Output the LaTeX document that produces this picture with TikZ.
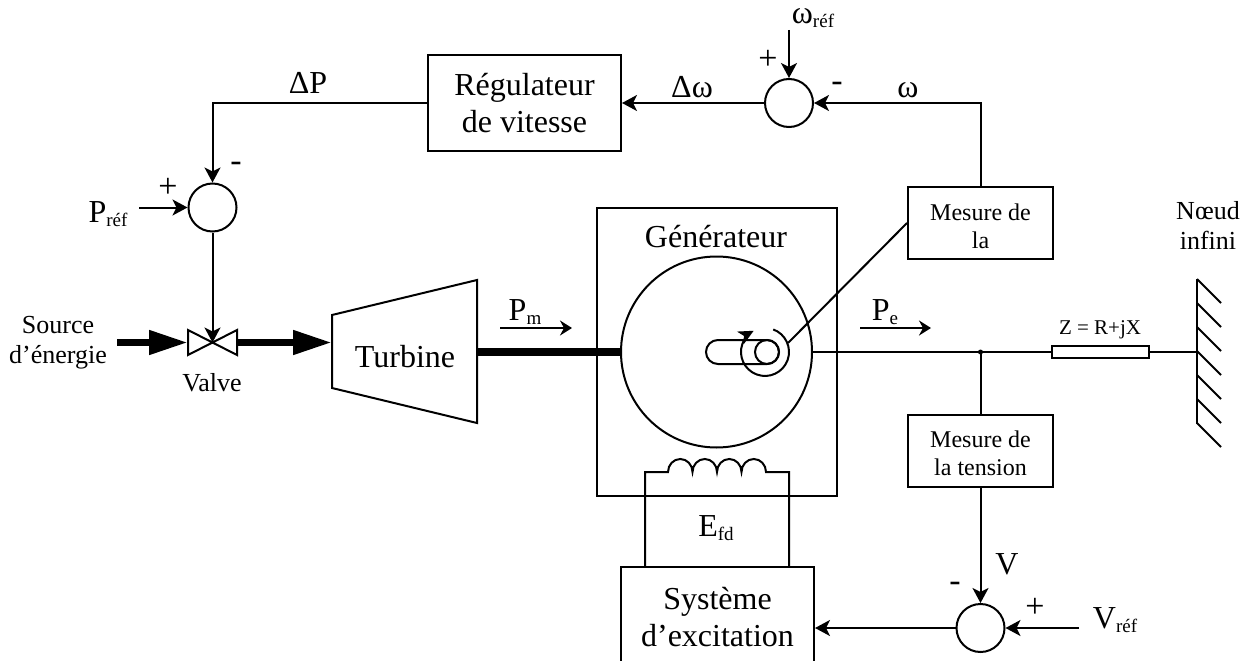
\documentclass[tikz,border=0pt]{standalone}
\usepackage{fontspec}
\setmainfont{Liberation Serif}
\usetikzlibrary{arrows.meta}

\newcommand{\indice}[1]{\raisebox{-4pt}{\fontsize{19}{19}\selectfont #1}}
\tikzset{
  trait/.style={line width=2pt},
  fleche/.style={trait, -{Stealth[length=15pt,width=16pt,inset=4pt]}},
  flechefine/.style={trait, -{Stealth[length=12pt,width=15pt,inset=4pt]}},
  grosse/.style={line width=7.5pt, -{Triangle[length=39pt,width=23pt]}},
  bloc/.style={draw, trait, align=center, inner sep=0pt},
  sommateur/.style={draw, trait, circle, minimum size=48pt, inner sep=0pt},
  grand/.style={font=\fontsize{32}{37}\selectfont, inner sep=0pt, anchor=base},
  moyen/.style={font=\fontsize{26}{30}\selectfont, inner sep=0pt, anchor=base},
  petit/.style={font=\fontsize{24}{28}\selectfont, align=center, inner sep=0pt},
  signe/.style={font=\fontsize{34}{30}\selectfont, inner sep=0pt},
  moins/.style={font=\fontsize{34}{30}\selectfont, inner sep=0pt},
}

\begin{document}
\begin{tikzpicture}[x=1pt, y=-1pt]
  \useasboundingbox (0,0) rectangle (1250,661);
  \clip (0,0) rectangle (1250,661);

  % Sommateurs
  \node[sommateur] (sommeP) at (212.5,207.5) {};
  \node[sommateur] (sommeW) at (789,103) {};
  \node[sommateur] (sommeV) at (980.5,628) {};

  % Blocs
  \node[bloc, font=\fontsize{32}{37}\selectfont, minimum width=193pt, minimum height=96pt] (regulateur) at (524.5,103) {Régulateur\\de vitesse};
  \node[bloc, font=\fontsize{32}{37}\selectfont, minimum width=193pt, minimum height=100pt] (systeme) at (717.5,617) {Système\\d’excitation};
  \node[bloc, minimum width=145pt, minimum height=72pt] (mesureW) at (980.5,223) {};
  \node[petit] (texteW) at (980.5,226) {Mesure de\\la};
  \node[bloc, minimum width=145pt, minimum height=72pt] (mesureV) at (980.5,451) {};
  \node[petit] (texteV) at (980.5,453) {Mesure de\\la tension};
  \node[bloc, minimum width=240pt, minimum height=288pt] (cadre) at (717,352) {};

  % Turbine
  \draw[trait] (332,315) coordinate (turbineG) -- (477,280) -- (477,423) -- (332,388) -- cycle;
  \coordinate (entreeT) at (332,342.5);
  \coordinate (sortieT) at (477,352);
  \node[grand] (turbine) at (405,367) {Turbine};

  % Generateur
  \node[draw, trait, circle, minimum size=191pt, inner sep=0pt] (generateur) at (716.5,352) {};
  \node[grand] (titreG) at (716,247) {Générateur};
  \node[draw, trait, rounded corners=12pt, minimum width=73pt, minimum height=24pt, inner sep=0pt] (arbre) at (742.5,352) {};
  \node[draw, trait, circle, minimum size=24pt, inner sep=0pt] (rotor) at (767,352) {};
  \draw[trait, -{Stealth[length=15pt,width=14pt,inset=4pt]}] (773.2,329.4) arc[start angle=70, end angle=-242, radius=24pt];
  \coordinate (bague) at (788,343);
  \draw[trait] (mesureW.west) -- (bague);

  % Valve
  \coordinate (valve) at (212.5,342.5);
  \coordinate (valveG) at (188,342.5);
  \coordinate (valveD) at (237,342.5);
  \coordinate (source) at (117,342.5);
  \draw[trait] (188,330) -- (237,355) -- (237,330) -- (188,355) -- cycle;
  \draw[grosse] (source) -- (valveG);
  \draw[grosse] (valveD) -- (entreeT);
  \draw[line width=7.5pt] (sortieT) -- (generateur.west);
  \node[moyen] (labelV) at (212,391) {Valve};
  \node[moyen, anchor=center, align=center] (labelS) at (58,343) {Source\\d’énergie};

  % Boucle de vitesse
  \coordinate (coudeP) at (212.5,103);
  \coordinate (coudeW) at (980.5,103);
  \coordinate (refW) at (789,30);
  \coordinate (refP) at (139,207.5);
  \draw[fleche] (regulateur.west) -- (coudeP) -- (sommeP.north);
  \draw[fleche] (sommeW.west) -- (regulateur.east);
  \draw[fleche] (mesureW.north) -- (coudeW) -- (sommeW.east);
  \draw[fleche] (refW) -- (sommeW.north);
  \draw[fleche] (refP) -- (sommeP.west);
  \draw[fleche] (sommeP.south) -- (valve);

  \node[grand] (labelDP) at (308,93) {ΔP};
  \node[grand] (labelDW) at (692,97) {Δω};
  \node[grand] (labelW) at (908,97) {ω};
  \node[grand] (labelWref) at (813,24) {ω\indice{réf}};
  \node[grand] (labelPref) at (108,222) {P\indice{réf}};
  \node[signe] (plusW) at (768,60) {+};
  \node[moins] (moinsW) at (837,87) {-};
  \node[signe] (plusP) at (168,188) {+};
  \node[moins] (moinsP) at (236,167) {-};

  % Puissances
  \coordinate (pmA) at (500,328);
  \coordinate (pmB) at (572,328);
  \coordinate (peA) at (860,328);
  \coordinate (peB) at (931,328);
  \draw[flechefine] (pmA) -- (pmB);
  \draw[flechefine] (peA) -- (peB);
  \node[grand] (labelPm) at (525,320) {P\indice{m}};
  \node[grand] (labelPe) at (885,320) {P\indice{e}};

  % Ligne et noeud infini
  \coordinate (jonction) at (980.5,352);
  \coordinate (murH) at (1197,279);
  \coordinate (murB) at (1197,424);
  \coordinate (murM) at (1197,352);
  \node[bloc, minimum width=97pt, minimum height=12pt, fill=white] (impedance) at (1100.5,352) {};
  \draw[trait] (generateur.east) -- (jonction) -- (impedance.west);
  \draw[trait] (impedance.east) -- (murM);
  \draw[trait] (murH) -- (murB);
  \foreach \k in {0,...,6}
    \draw[trait] (1197,{279+24*\k}) -- ++(24,24);
  \fill (jonction) circle (2.5pt);
  \node[font=\fontsize{21}{24}\selectfont, inner sep=0pt, anchor=base] (labelZ) at (1100,334) {Z = R+jX};
  \node[moyen, anchor=center, align=center] (labelN) at (1208,225) {Nœud\\infini};

  % Boucle de tension
  \coordinate (refV) at (1079,628);
  \draw[trait] (jonction) -- (mesureV.north);
  \draw[fleche] (mesureV.south) -- (sommeV.north);
  \draw[fleche] (refV) -- (sommeV.east);
  \draw[fleche] (sommeV.west) -- (systeme.east |- sommeV.west);
  \node[grand] (labelVm) at (1007,574) {V};
  \node[grand] (labelVref) at (1115,628) {V\indice{réf}};
  \node[moins] (moinsV) at (955,587) {-};
  \node[signe] (plusV) at (1035,608) {+};

  % Bobine d'excitation
  \coordinate (bobineG) at (645,567);
  \coordinate (bobineD) at (789,567);
  \draw[trait] (bobineG) -- (645,472) -- (668,472)
    foreach \i in {1,...,4} {arc[start angle=180, end angle=0, x radius=12.25pt, y radius=13pt]}
    -- (789,472) -- (bobineD);
  \node[grand] (labelE) at (716,536) {E\indice{fd}};

\end{tikzpicture}
\end{document}
